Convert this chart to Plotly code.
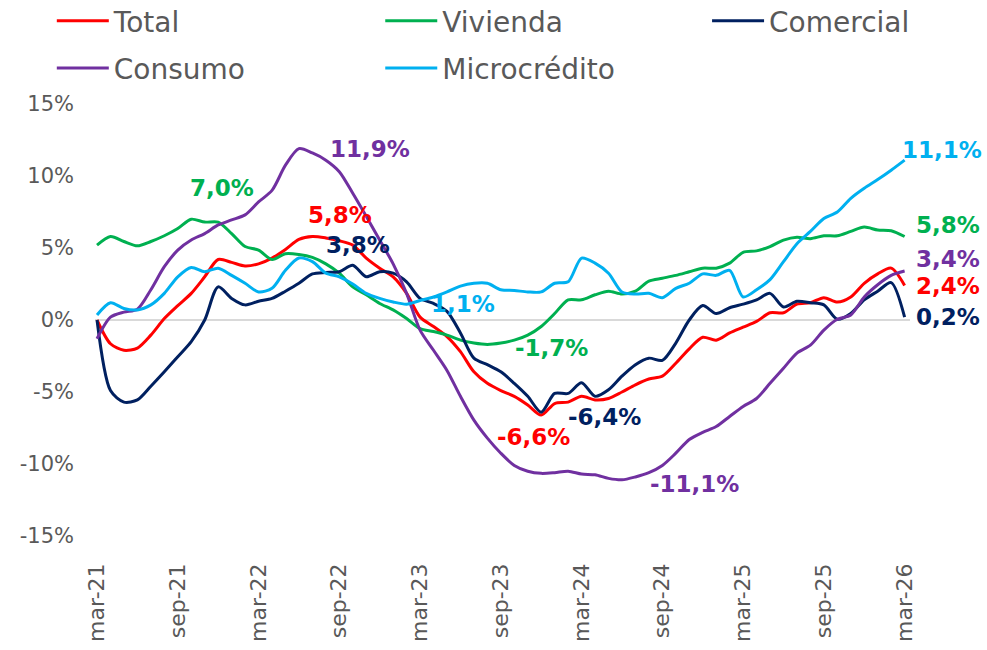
import plotly.graph_objects as go

FONT = "DejaVu Sans, sans-serif"
GREY = "#595959"

tick_labels = ["mar-21", "sep-21", "mar-22", "sep-22", "mar-23", "sep-23",
               "mar-24", "sep-24", "mar-25", "sep-25", "mar-26"]

# monthly series, mar-21 .. mar-26 (%)
total = [0.0, -1.65, -2.1, -1.95, -1.05, 0.1, 1.0, 1.85, 3.0, 4.2,
         4.0, 3.75, 3.9, 4.3, 4.9, 5.6, 5.8, 5.7, 5.5, 5.2,
         4.3, 3.6, 3.0, 1.85, 0.2, -0.45, -1.15, -2.2, -3.6, -4.4,
         -4.9, -5.3, -5.9, -6.6, -5.8, -5.7, -5.3, -5.55, -5.45, -5.0,
         -4.5, -4.1, -3.9, -3.0, -2.0, -1.2, -1.4, -0.9, -0.5, -0.1,
         0.5, 0.5, 1.1, 1.2, 1.55, 1.25, 1.6, 2.55, 3.2, 3.6,
         2.4]
vivienda = [5.2, 5.8, 5.45, 5.15, 5.45, 5.85, 6.35, 7.0, 6.8, 6.8,
            6.0, 5.1, 4.85, 4.2, 4.6, 4.55, 4.35, 3.9, 3.25, 2.3,
            1.75, 1.15, 0.7, 0.1, -0.6, -0.8, -1.05, -1.4, -1.6, -1.7,
            -1.6, -1.4, -1.05, -0.45, 0.45, 1.4, 1.4, 1.75, 2.0, 1.8,
            2.0, 2.7, 2.9, 3.1, 3.35, 3.6, 3.6, 3.95, 4.7, 4.8,
            5.1, 5.55, 5.75, 5.65, 5.85, 5.85, 6.15, 6.45, 6.25, 6.2,
            5.8]
comercial = [0.0, -4.9, -5.7, -5.55, -4.6, -3.6, -2.55, -1.5, 0.0, 2.3,
             1.5, 1.05, 1.3, 1.5, 2.0, 2.55, 3.2, 3.3, 3.35, 3.8,
             3.0, 3.35, 3.25, 2.65, 1.5, 1.15, 0.6, -0.9, -2.65, -3.1,
             -3.6, -4.4, -5.3, -6.4, -5.1, -5.1, -4.35, -5.3, -4.85, -3.9,
             -3.1, -2.65, -2.8, -1.6, 0.0, 1.0, 0.45, 0.85, 1.1, 1.4,
             1.85, 0.9, 1.3, 1.2, 1.05, 0.05, 0.45, 1.4, 2.0, 2.6,
             0.2]
consumo = [-1.3, 0.2, 0.55, 0.75, 2.1, 3.7, 4.85, 5.55, 6.0, 6.6,
           6.95, 7.3, 8.2, 9.0, 10.75, 11.9, 11.6, 11.1, 10.3, 8.8,
           7.2, 5.55, 3.9, 1.85, -0.7, -2.1, -3.5, -5.3, -6.95, -8.2,
           -9.25, -10.1, -10.5, -10.65, -10.6, -10.5, -10.7, -10.75, -11.0, -11.1,
           -10.9, -10.6, -10.1, -9.25, -8.3, -7.8, -7.4, -6.7, -6.0, -5.45,
           -4.4, -3.35, -2.3, -1.75, -0.7, 0.05, 0.35, 1.6, 2.45, 3.1,
           3.4]
microcredito = [0.35, 1.2, 0.8, 0.7, 1.05, 1.85, 3.0, 3.65, 3.35, 3.6,
                3.1, 2.55, 1.95, 2.2, 3.45, 4.3, 4.05, 3.25, 3.0, 2.5,
                1.85, 1.5, 1.25, 1.1, 1.35, 1.6, 1.95, 2.35, 2.55, 2.55,
                2.1, 2.05, 1.95, 1.95, 2.55, 2.65, 4.3, 3.95, 3.25, 1.95,
                1.8, 1.85, 1.55, 2.2, 2.55, 3.2, 3.1, 3.45, 1.6, 2.1,
                2.8, 4.05, 5.3, 6.15, 7.05, 7.5, 8.45, 9.15, 9.75, 10.4,
                11.1]

# name, values, colour, legend column
series = [
    ("Total", total, "#FF0000", "legend"),
    ("Vivienda", vivienda, "#00B050", "legend2"),
    ("Comercial", comercial, "#002060", "legend3"),
    ("Consumo", consumo, "#7030A0", "legend"),
    ("Microcrédito", microcredito, "#00B0F0", "legend2"),
]
idx = list(range(len(total)))

fig = go.Figure()
for name, vals, color, leg in series:
    fig.add_trace(go.Scatter(
        x=idx, y=vals, name=name, mode="lines", legend=leg, legendgroup=name,
        line=dict(color=color, width=3, shape="spline", smoothing=0.8),
        hoverinfo="skip",
    ))

# (series, point index, text, xshift, yshift, xanchor, colour)
labels = [
    (vivienda, 7, "7,0%", 31, 31, "center", "#00B050"),
    (consumo, 15, "11,9%", 71, 0, "center", "#7030A0"),
    (total, 16, "5,8%", 28, 21, "center", "#FF0000"),
    (comercial, 19, "3,8%", 5, 20, "center", "#002060"),
    (microcredito, 23, "1,1%", 56, 0, "center", "#00B0F0"),
    (vivienda, 29, "-1,7%", 64, -4, "center", "#00B050"),
    (total, 33, "-6,6%", -8, -22, "center", "#FF0000"),
    (comercial, 33, "-6,4%", 63, -5, "center", "#002060"),
    (consumo, 39, "-11,1%", 73, -4, "center", "#7030A0"),
    (microcredito, 60, "11,1%", -5, 10, "left", "#00B0F0"),
    (vivienda, 60, "5,8%", 9, 11, "left", "#00B050"),
    (consumo, 60, "3,4%", 9, 12, "left", "#7030A0"),
    (total, 60, "2,4%", 9, -1, "left", "#FF0000"),
    (comercial, 60, "0,2%", 9, 0, "left", "#002060"),
]
for vals, i, text, dx, dy, xa, color in labels:
    fig.add_annotation(
        x=i, y=vals[i], text=f"<b>{text}</b>", showarrow=False,
        xshift=dx, yshift=dy, xanchor=xa, yanchor="middle",
        font=dict(family=FONT, size=23, color=color),
    )

legend_style = dict(
    orientation="v", yref="paper", xref="paper", y=1.25, yanchor="top",
    xanchor="left", font=dict(family=FONT, size=28, color=GREY),
    bgcolor="rgba(0,0,0,0)", tracegroupgap=8, itemwidth=52,
)

fig.update_layout(
    width=987, height=650,
    paper_bgcolor="white", plot_bgcolor="white",
    margin=dict(l=95, r=77, t=104, b=114, autoexpand=False),
    font=dict(family=FONT, color=GREY),
    legend=dict(x=-0.053, **legend_style),
    legend2=dict(x=0.350, **legend_style),
    legend3=dict(x=0.751, **legend_style),
    xaxis=dict(
        range=[-0.15, 60.4],
        tickmode="array", tickvals=list(range(0, 61, 6)), ticktext=tick_labels,
        tickangle=-90, showgrid=False, zeroline=False, showline=False,
        ticklabelstandoff=22,
        tickfont=dict(family=FONT, size=22, color=GREY),
    ),
    yaxis=dict(
        range=[-15, 15], tickmode="array",
        tickvals=[-15, -10, -5, 0, 5, 10, 15],
        ticktext=["-15%", "-10%", "-5%", "0%", "5%", "10%", "15%"],
        showgrid=False, zeroline=True, zerolinecolor="#D9D9D9", zerolinewidth=2,
        showline=False, ticklabelstandoff=20,
        tickfont=dict(family=FONT, size=21, color=GREY),
    ),
)

# drop the browser's default 8px body margin so the figure sits at 0,0
fig.write_html(
    "out.html",
    config={"displayModeBar": False},
    post_script="document.body.style.margin='0';",
)
